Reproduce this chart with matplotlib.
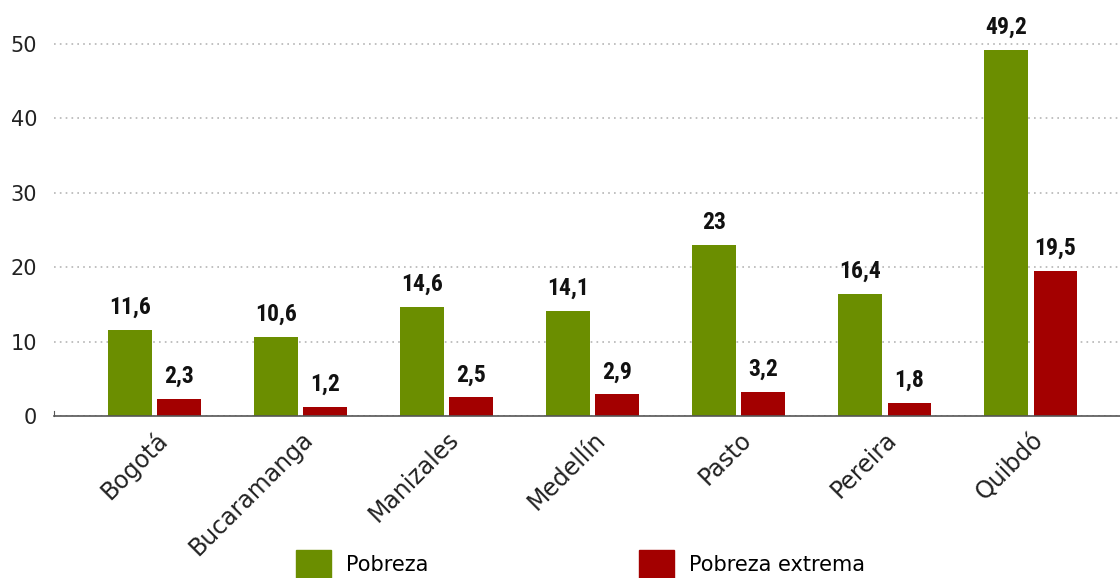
import numpy as np
import matplotlib
matplotlib.use('Agg')
import matplotlib.pyplot as plt
from matplotlib.patches import Patch
from matplotlib import font_manager

plt.rcParams['font.family'] = ['DejaVu Sans']

ciudades = ['Bogotá', 'Bucaramanga', 'Manizales', 'Medellín', 'Pasto', 'Pereira', 'Quibdó']
pobreza = [11.6, 10.6, 14.6, 14.1, 23, 16.4, 49.2]
pobreza_extrema = [2.3, 1.2, 2.5, 2.9, 3.2, 1.8, 19.5]
series = ['Pobreza', 'Pobreza extrema']

verde = '#6b8e00'
rojo = '#a30000'

# condensed bold font for the value labels, if one is around
nombres = {f.name for f in font_manager.fontManager.ttflist}
narrow = [n for n in ['Liberation Sans Narrow', 'DejaVu Sans Condensed', 'Roboto Condensed',
                      'Open Sans Condensed'] if n in nombres]
print(narrow, sorted(nombres))
fam_val = narrow + ['DejaVu Sans']

fig = plt.figure(figsize=(11.2, 5.78), dpi=100)
ax = fig.add_axes([54 / 1120, 162 / 578, 1 - 54 / 1120, 1 - 162 / 578])

x = np.arange(len(ciudades))
w = 0.30
off = 0.168
b1 = ax.bar(x - off, pobreza, w, color=verde)
b2 = ax.bar(x + off, pobreza_extrema, w, color=rojo)

def fmt(v):
    return f'{v:g}'.replace('.', ',')

for bars, vals in ((b1, pobreza), (b2, pobreza_extrema)):
    texts = ax.bar_label(bars, labels=[fmt(v) for v in vals], padding=8, color='#111111')
    for t in texts:
        t.set_family(fam_val)
        t.set_fontweight('bold')
        t.set_fontstretch('condensed')
        t.set_fontsize(17)

ax.set_xlim(-0.69, 6.61)
ax.set_ylim(0, 55.9)
ax.set_yticks([0, 10, 20, 30, 40, 50])
ax.tick_params(axis='y', length=0, pad=12, labelsize=15, labelcolor='#222222')
ax.set_xticks(x)
ax.set_xticklabels(ciudades, rotation=45, ha='right', rotation_mode='anchor', fontsize=17, color='#222222')
ax.tick_params(axis='x', length=0, pad=8)

ax.grid(axis='y', linestyle=(0, (1, 2.5)), color='#b5b5b5', linewidth=1.2)
ax.set_axisbelow(True)
for s in ['top', 'right']:
    ax.spines[s].set_visible(False)
ax.spines['left'].set_bounds(0, 0.7)
ax.spines['left'].set_color('#555555')
ax.spines['bottom'].set_color('#555555')
ax.spines['bottom'].set_linewidth(1.2)

handles = [Patch(color=verde), Patch(color=rojo)]
fig.legend(handles, series, loc='upper left', bbox_to_anchor=(288 / 1120, 1 - 542 / 578),
           ncol=2, frameon=False, fontsize=15, handlelength=1.65, handleheight=1.7,
           handletextpad=0.75, columnspacing=10.1, borderaxespad=0)

fig.savefig('out.png', dpi=100)
